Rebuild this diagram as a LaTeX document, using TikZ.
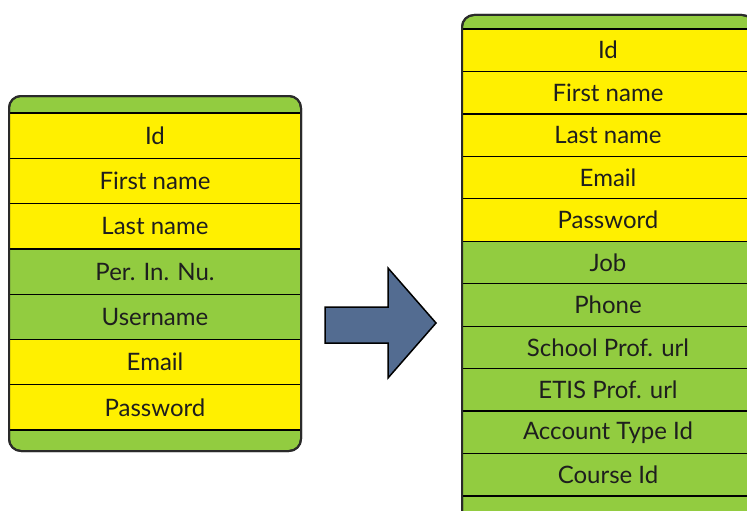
\documentclass[tikz,border=0pt]{standalone}
\usepackage{fontspec}
\setmainfont{Lato}
\definecolor{rowyellow}{HTML}{FFF000}
\definecolor{rowgreen}{HTML}{92CC40}
\definecolor{arrowblue}{HTML}{536C91}
\definecolor{framegray}{HTML}{2A2A2A}
\definecolor{textdark}{HTML}{1E1E1E}
\begin{document}
\begin{tikzpicture}[x=1pt,y=-1pt,
  frame/.style={draw=framegray,line width=2pt,fill=rowgreen,rounded corners=12pt},
  rowbase/.style={draw=black,line width=1.3pt,outer sep=0pt,inner sep=0pt,anchor=north west,minimum width=292pt,text=textdark,font=\fontsize{24}{28}\selectfont},
  lrow/.style={rowbase,minimum height=45.3pt},
  rrow/.style={rowbase,minimum height=42.45pt},
  ye/.style={fill=rowyellow},
  gr/.style={fill=rowgreen},
  bigarrow/.style={draw=black,line width=1.5pt,fill=arrowblue,line join=miter}]
\useasboundingbox (0,0) rectangle (747,511);
\clip (0,0) rectangle (747,511);
% left table
\draw[frame] (9,96) rectangle (301,451);
\node[lrow,ye] (l1) at (9,113) {Id};
\node[lrow,ye] (l2) at (l1.south west) {First name};
\node[lrow,ye] (l3) at (l2.south west) {Last name};
\node[lrow,gr] (l4) at (l3.south west) {Per. In. Nu.};
\node[lrow,gr] (l5) at (l4.south west) {Username};
\node[lrow,ye] (l6) at (l5.south west) {Email};
\node[lrow,ye] (l7) at (l6.south west) {Password};
\draw[draw=framegray,line width=2pt,rounded corners=12pt] (9,96) rectangle (301,451);
% right table
\draw[frame] (462,15) rectangle (754,530);
\node[rrow,ye] (r1) at (462,29) {Id};
\node[rrow,ye] (r2) at (r1.south west) {First name};
\node[rrow,ye] (r3) at (r2.south west) {Last name};
\node[rrow,ye] (r4) at (r3.south west) {Email};
\node[rrow,ye] (r5) at (r4.south west) {Password};
\node[rrow,gr] (r6) at (r5.south west) {Job};
\node[rrow,gr] (r7) at (r6.south west) {Phone};
\node[rrow,gr] (r8) at (r7.south west) {School Prof. url};
\node[rrow,gr] (r9) at (r8.south west) {ETIS Prof. url};
\node[rrow,gr] (r10) at (r9.south west) {Account Type Id};
\node[rrow,gr] (r11) at (r10.south west) {Course Id};
\draw[draw=framegray,line width=2pt,rounded corners=12pt] (462,15) rectangle (754,530);
% arrow
\draw[bigarrow] (325,307) -- (388,307) -- (388,268) -- (436,323) -- (388,378) -- (388,343) -- (325,343) -- cycle;
\end{tikzpicture}
\end{document}
